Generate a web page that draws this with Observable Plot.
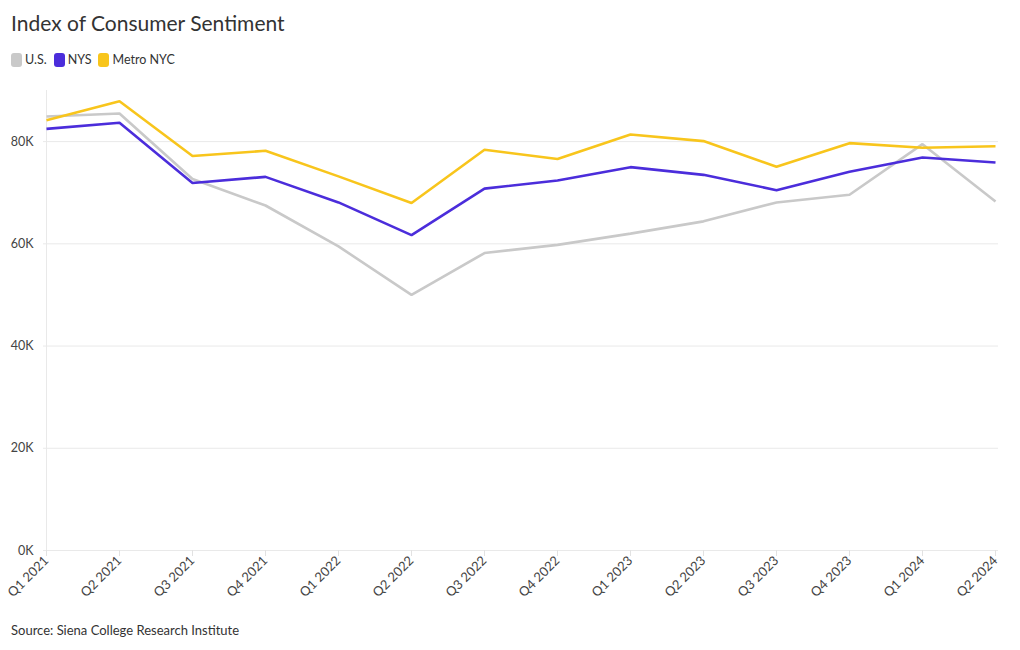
<!DOCTYPE html>
<html>
<head>
<meta charset="utf-8">
<script src="https://cdn.jsdelivr.net/npm/d3@7"></script>
<script src="https://cdn.jsdelivr.net/npm/@observablehq/plot@0.6"></script>
<style>
  html, body { margin: 0; padding: 0; background: #fff; }
  body { width: 1020px; height: 650px; font-family: Lato, "Noto Sans", sans-serif; color: #333; position: relative; overflow: hidden; }
  #title { position: absolute; left: 11px; top: 10px; font-size: 21px; color: #333; }
  #legend { position: absolute; left: 11px; top: 52px; font-size: 12.5px; color: #333; display: flex; align-items: center; }
  #legend .item { display: flex; align-items: center; margin-right: 7px; }
  #legend .sw { width: 11px; height: 14px; border-radius: 3px; margin-right: 3px; display: inline-block; }
  #chart { position: absolute; left: 0; top: 75px; width: 1020px; }
  #chart svg { display: block; }
  #caption { position: absolute; left: 11px; top: 622px; font-size: 13px; color: #333; }
</style>
</head>
<body>
<div id="title">Index of Consumer Sentiment</div>
<div id="legend"></div>
<div id="chart"></div>
<div id="caption">Source: Siena College Research Institute</div>
<script>
const quarters = ["Q1 2021","Q2 2021","Q3 2021","Q4 2021","Q1 2022","Q2 2022","Q3 2022","Q4 2022","Q1 2023","Q2 2023","Q3 2023","Q4 2023","Q1 2024","Q2 2024"];
const seriesNames = ["U.S.", "NYS", "Metro NYC"];
const seriesColors = ["#c9c9c9", "#4b2ddb", "#f8c51c"];
const us =    [84.9, 85.5, 72.7, 67.5, 59.5, 50.0, 58.2, 59.8, 62.0, 64.4, 68.1, 69.6, 79.5, 68.3];
const nys =   [82.5, 83.7, 71.9, 73.1, 68.1, 61.7, 70.8, 72.4, 75.0, 73.5, 70.5, 74.1, 76.9, 75.9];
const metro = [84.2, 87.9, 77.2, 78.2, 73.2, 68.0, 78.4, 76.6, 81.4, 80.1, 75.1, 79.7, 78.8, 79.1];
const yTicks = [0, 20, 40, 60, 80];

const valuesBySeries = [us, nys, metro];
const data = [];
seriesNames.forEach((s, i) => {
  quarters.forEach((q, j) => data.push({series: s, quarter: q, value: valuesBySeries[i][j]}));
});

// legend
const legend = document.getElementById("legend");
seriesNames.forEach((s, i) => {
  const it = document.createElement("span");
  it.className = "item";
  const sw = document.createElement("span");
  sw.className = "sw";
  sw.style.background = seriesColors[i];
  it.appendChild(sw);
  it.appendChild(document.createTextNode(s));
  legend.appendChild(it);
});

const chart = Plot.plot({
  width: 1020,
  height: 530,
  marginTop: 15,
  marginBottom: 55,
  marginLeft: 43,
  marginRight: 22,
  style: {fontFamily: "Lato, 'Noto Sans', sans-serif", fontSize: "12.5px", color: "#444", background: "#fff", maxWidth: "none"},
  x: {type: "point", domain: quarters, padding: 0},
  y: {domain: [0, 90]},
  color: {domain: seriesNames, range: seriesColors},
  marks: [
    Plot.gridY(yTicks, {stroke: "#e9e9e9", strokeOpacity: 1}),
    Plot.ruleX([quarters[0]], {y1: 0, y2: 90, stroke: "#e9e9e9"}),
    Plot.axisY(yTicks, {tickSize: 0, tickPadding: 10, tickFormat: d => d + "K", fill: "#444", label: null}),
    Plot.axisX({tickSize: 6, stroke: "#e2e2e2", tickRotate: -45, tickPadding: 2, fill: "#444", label: null, fontSize: 13}),
    Plot.line(data, {x: "quarter", y: "value", z: "series", stroke: "series", strokeWidth: 2.6, strokeLinejoin: "miter", strokeLinecap: "butt"})
  ]
});
document.getElementById("chart").appendChild(chart);
</script>
</body>
</html>
